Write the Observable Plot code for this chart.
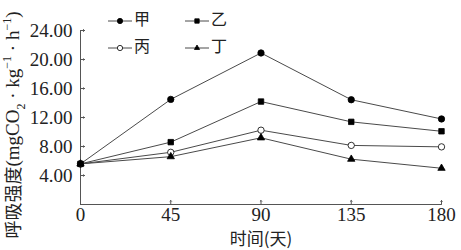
<!DOCTYPE html>
<html><head><meta charset="utf-8">
<script src="https://cdn.jsdelivr.net/npm/d3@7"></script>
<script src="https://cdn.jsdelivr.net/npm/@observablehq/plot@0.6"></script>
<style>body{margin:0;background:#fff}</style>
</head><body><div id="chart"></div>
<script>
const days = [0, 45, 90, 135, 180];
const seriesNames = ["甲", "乙", "丙", "丁"];
const jia  = [5.6, 14.5, 20.9, 14.45, 11.8];
const yi   = [5.6, 8.6, 14.2, 11.4, 10.1];
const bing = [5.6, 7.2, 10.25, 8.15, 7.95];
const ding = [5.6, 6.6, 9.2, 6.25, 5.0];
const yTicks = [4, 8, 12, 16, 20, 24];
const xTicks = [0, 45, 90, 135, 180];

const values = [jia, yi, bing, ding];
const symbols = {"甲": "circle", "乙": "square", "丙": "circle", "丁": "triangle"};
const fills = {"甲": "black", "乙": "black", "丙": "white", "丁": "black"};
const radii = {"甲": 3.3, "乙": 3.1, "丙": 3.3, "丁": 2.4};
const rows = [];
seriesNames.forEach((s, i) => days.forEach((d, j) => rows.push({series: s, day: d, value: values[i][j]})));

const serif = "Liberation Serif";
const plot = Plot.plot({
  width: 461, height: 250,
  marginLeft: 80, marginRight: 20, marginTop: 30, marginBottom: 46,
  style: {fontFamily: serif, fontSize: "19px", color: "#222", background: "white"},
  x: {domain: [0, 180]},
  y: {domain: [0, 24]},
  marks: [
    Plot.ruleX([0], {stroke: "#555"}),
    Plot.ruleY([0], {stroke: "#555"}),
    // inward tick marks
    Plot.vector([24, ...yTicks], {x: 0, y: d => d, length: 4, rotate: 90, anchor: "start", stroke: "#555", strokeWidth: 1}),
    Plot.vector(xTicks.slice(1), {x: d => d, y: 0, length: 4, rotate: 0, anchor: "start", stroke: "#555", strokeWidth: 1}),
    Plot.axisY({ticks: yTicks, tickSize: 0, tickPadding: 8, tickFormat: d => d.toFixed(2), label: null, fontFamily: serif, fontSize: 19, fill: "#222"}),
    Plot.axisX({ticks: xTicks, tickSize: 0, tickPadding: 3, tickFormat: d => String(d), label: null, fontFamily: serif, fontSize: 19, fill: "#222"}),
    Plot.line(rows, {x: "day", y: "value", z: "series", stroke: "#4a4a4a", strokeWidth: 1}),
    Plot.dot(rows, {x: "day", y: "value", symbol: d => symbols[d.series], fill: d => fills[d.series], r: d => radii[d.series], stroke: "black", strokeWidth: 0.8}),
    Plot.text(["时间(天)"], {frameAnchor: "bottom", dy: 40, fontSize: 17, fontFamily: "Noto Sans CJK SC", fill: "#222"})
  ]
});
document.getElementById("chart").appendChild(plot);

const svg = d3.select(plot);
// y axis label with sub/superscripts
const yl = svg.append("text")
  .attr("transform", "translate(15,125) rotate(-90)")
  .attr("text-anchor", "middle")
  .attr("dominant-baseline", "middle")
  .style("font-family", serif)
  .style("font-size", "19px")
  .attr("fill", "#222");
yl.append("tspan").style("font-family", "Noto Sans CJK SC").style("font-size", "18px").text("呼吸强度");
yl.append("tspan").text("(mgCO");
yl.append("tspan").attr("baseline-shift", "sub").style("font-size", "12px").text("2");
yl.append("tspan").text(" · kg");
yl.append("tspan").attr("baseline-shift", "super").style("font-size", "12px").text("−1");
yl.append("tspan").text(" · h");
yl.append("tspan").attr("baseline-shift", "super").style("font-size", "12px").text("−1");
yl.append("tspan").text(")");

// legend
const legPos = [[108, 21], [185, 21], [108, 48], [185, 48]];
const sym = {circle: d3.symbolCircle, square: d3.symbolSquare, triangle: d3.symbolTriangle};
const lg = svg.append("g");
seriesNames.forEach((s, i) => {
  const [lx, ly] = legPos[i];
  lg.append("line").attr("x1", lx).attr("x2", lx + 24).attr("y1", ly).attr("y2", ly).attr("stroke", "#4a4a4a");
  const r = radii[s] * 0.8;
  lg.append("path").attr("transform", `translate(${lx + 12},${ly})`)
    .attr("d", d3.symbol(sym[symbols[s]], Math.PI * r * r)())
    .attr("fill", fills[s]).attr("stroke", "black").attr("stroke-width", 0.8);
  lg.append("text").attr("x", lx + 34).attr("y", ly).attr("dominant-baseline", "middle")
    .style("font-family", "Noto Sans CJK SC").style("font-size", "16px").attr("fill", "#222").text(s);
});
</script></body></html>
